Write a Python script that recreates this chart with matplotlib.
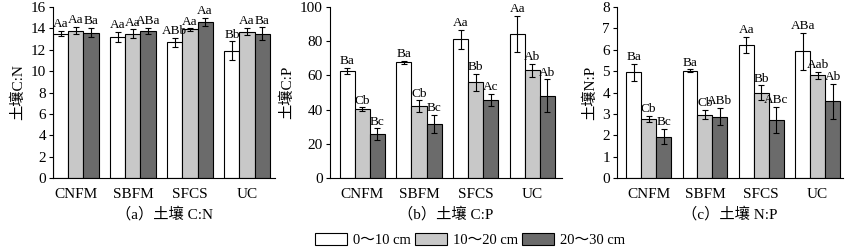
import numpy as np
import matplotlib.pyplot as plt
from matplotlib.patches import Patch

plt.rcParams['font.family'] = ['Liberation Serif', 'Noto Sans CJK SC']
plt.rcParams['axes.unicode_minus'] = False

sites = ["CNFM", "SBFM", "SFCS", "UC"]
depths = ["0～10 cm", "10～20 cm", "20～30 cm"]
colors = ["white", "#c8c8c8", "#6b6b6b"]

# soil C:N  (rows: depth, cols: site)
cn_mean = [[13.5, 13.2, 12.7, 11.9],
           [13.8, 13.5, 13.9, 13.7],
           [13.6, 13.75, 14.6, 13.5]]
cn_err = [[0.25, 0.5, 0.4, 0.9],
          [0.35, 0.4, 0.1, 0.35],
          [0.45, 0.3, 0.4, 0.6]]
cn_lab = [["Aa", "Aa", "ABb", "Bb"],
          ["Aa", "Aa", "Aa", "Aa"],
          ["Ba", "ABa", "Aa", "Ba"]]

# soil C:P
cp_mean = [[62.7, 67.6, 81.2, 84.3],
           [40.4, 41.9, 55.9, 62.9],
           [25.6, 31.8, 45.6, 48.2]]
cp_err = [[1.7, 0.8, 5.5, 10.5],
          [1.0, 3.5, 5.0, 3.8],
          [3.5, 5.2, 3.5, 9.5]]
cp_lab = [["Ba", "Ba", "Aa", "Aa"],
          ["Cb", "Cb", "Bb", "Ab"],
          ["Bc", "Bc", "Ac", "Ab"]]

# soil N:P
np_mean = [[4.94, 5.02, 6.24, 5.93],
           [2.76, 2.97, 4.0, 4.81],
           [1.94, 2.87, 2.72, 3.6]]
np_err = [[0.4, 0.06, 0.37, 0.87],
          [0.15, 0.22, 0.33, 0.17],
          [0.37, 0.4, 0.6, 0.82]]
np_lab = [["Ba", "Ba", "Aa", "ABa"],
          ["Cb", "Cb", "Bb", "Aab"],
          ["Bc", "ABb", "ABc", "Ab"]]

panels = [
    (cn_mean, cn_err, cn_lab, "土壤C:N", "（a）土壤 C:N", 16, 2, (-0.4, 3.49),
     [0.0624, 0.288, 0.2611, 0.684]),
    (cp_mean, cp_err, cp_lab, "土壤C:P", "（b）土壤 C:P", 100, 20, (-0.57, 3.52),
     [0.3882, 0.288, 0.2729, 0.684]),
    (np_mean, np_err, np_lab, "土壤N:P", "（c）土壤 N:P", 8, 1, (-0.56, 3.45),
     [0.7259, 0.288, 0.2659, 0.684]),
]

fig = plt.figure(figsize=(8.5, 2.5), dpi=100)
w = 0.265
x = np.arange(len(sites))

for mean, err, lab, ylab, title, ymax, step, xlim, pos in panels:
    ax = fig.add_axes(pos)
    for k in range(3):
        xs = x + (k - 1) * w
        ax.bar(xs, mean[k], width=w, color=colors[k], edgecolor="black",
               linewidth=0.8, zorder=2)
        ax.errorbar(xs, mean[k], yerr=err[k], fmt="none", ecolor="black",
                    elinewidth=0.8, capsize=2, capthick=0.8, zorder=3)
        for xi, m, e, t in zip(xs, mean[k], err[k], lab[k]):
            ax.annotate(t, (xi, m + e), xytext=(0, 0.5), textcoords="offset points",
                        ha="center", va="bottom", fontsize=9.5)
    ax.set_xlim(*xlim)
    ax.set_ylim(0, ymax)
    ax.set_yticks(np.arange(0, ymax + step / 2, step))
    ax.set_xticks(x)
    ax.set_xticklabels(sites, fontsize=11)
    ax.tick_params(axis="x", length=0, pad=7)
    ax.tick_params(axis="y", direction="out", length=3, labelsize=11, pad=2)
    for s in ["top", "right"]:
        ax.spines[s].set_visible(False)
    ax.set_ylabel(ylab, fontsize=11, labelpad=4)
    ax.set_xlabel(title, fontsize=11, labelpad=4)

handles = [Patch(facecolor=c, edgecolor="black", linewidth=0.8) for c in colors]
fig.legend(handles, depths, loc="center", bbox_to_anchor=(0.553, 0.04), ncol=3,
           frameon=False, fontsize=10.5, handlelength=2.2, handleheight=0.9,
           handletextpad=0.4, columnspacing=0.3, borderaxespad=0)

plt.savefig("out.png", dpi=100)
